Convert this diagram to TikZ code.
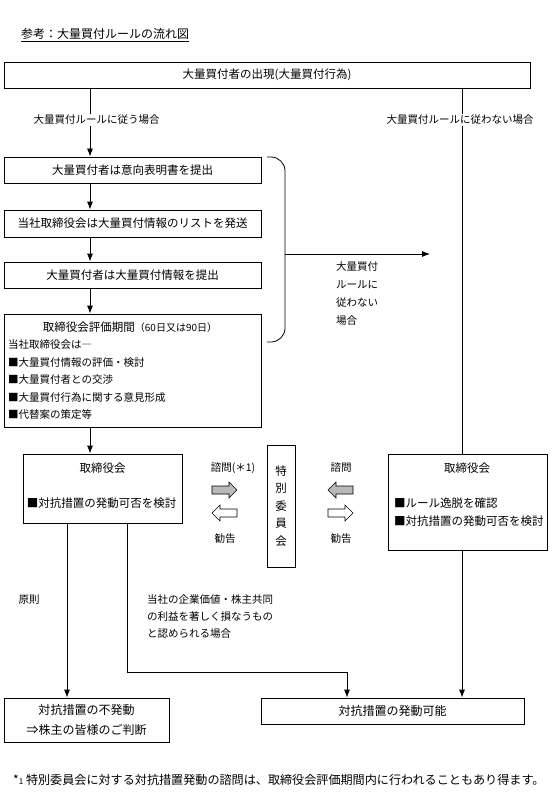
\documentclass[tikz,border=0pt]{standalone}
\usepackage{fontspec}
\setmainfont{Noto Sans CJK JP}
\usetikzlibrary{arrows.meta,calc}
\begin{document}
\begin{tikzpicture}[x=1pt,y=-1pt,
  ln/.style={line width=0.8pt},
  arr/.style={ln,-{Latex[length=8pt,width=6pt]}},
  box/.style={draw,ln,inner sep=0pt,align=center,font=\fontsize{11.5}{14}\selectfont},
  txt/.style={inner sep=0pt,font=\fontsize{11.5}{14}\selectfont},
  lst/.style={inner sep=0pt,anchor=west,font=\fontsize{10.5}{13}\selectfont},
  lbl/.style={inner sep=1.5pt,font=\fontsize{10.5}{13}\selectfont},
  blk/.style={line width=0.6pt},
]
\useasboundingbox (0,0) rectangle (555,805);

% title
\node[txt,font=\fontsize{12}{14}\selectfont] (title) at (105,35) {\underline{参考：大量買付ルールの流れ図}};

% boxes
\node[box,minimum width=526pt,minimum height=26pt] (top) at (267,75) {大量買付者の出現(大量買付行為)};
\node[box,minimum width=257pt,minimum height=26pt] (b1) at (132.5,170) {大量買付者は意向表明書を提出};
\node[box,minimum width=257pt,minimum height=27pt] (b2) at (132.5,223.5) {当社取締役会は大量買付情報のリストを発送};
\node[box,minimum width=257pt,minimum height=26pt] (b3) at (132.5,275) {大量買付者は大量買付情報を提出};
\node[box,minimum width=257pt,minimum height=113pt] (b4) at (132.5,370.5) {};
\node[txt] (b4t) at (130,327) {取締役会評価期間{\fontsize{10}{11}\selectfont（60日又は90日）}};
\node[lst] (b4a) at (8,345) {当社取締役会は―};
\node[lst] (b4b) at (8,363) {■大量買付情報の評価・検討};
\node[lst] (b4c) at (8,380) {■大量買付者との交渉};
\node[lst] (b4d) at (8,398) {■大量買付行為に関する意見形成};
\node[lst] (b4e) at (8,415) {■代替案の策定等};

\node[box,minimum width=159pt,minimum height=69pt] (b5) at (102.5,488.5) {};
\node[txt] (b5t) at (102.5,468) {取締役会};
\node[txt] (b5a) at (101.5,503) {■対抗措置の発動可否を検討};

\node[box,minimum width=28pt,minimum height=122pt,font=\fontsize{11.5}{17.5}\selectfont] (sp) at (281,506) {特\\別\\委\\員\\会};

\node[box,minimum width=159pt,minimum height=96pt] (rb) at (467.5,502) {};
\node[txt] (rbt) at (467,468) {取締役会};
\node[lst,font=\fontsize{11.5}{14}\selectfont] (rba) at (394,503) {■ルール逸脱を確認};
\node[lst,font=\fontsize{11.5}{14}\selectfont] (rbb) at (394,521) {■対抗措置の発動可否を検討};

\node[box,minimum width=165pt,minimum height=44pt,font=\fontsize{12}{20}\selectfont] (nb) at (86.5,720) {対抗措置の不発動\\⇒株主の皆様のご判断};
\node[box,minimum width=263pt,minimum height=26pt,font=\fontsize{12}{14}\selectfont] (pb) at (392.5,711) {対抗措置の発動可能};

% columns
\coordinate (cL) at (90,0);
\coordinate (cR) at (462,0);
\coordinate (c67) at (67,0);
\coordinate (c127) at (127,0);
\coordinate (turn) at (347,672);

% connectors
\draw[arr] (top.south -| cL) -- (b1.north -| cL);
\draw[arr] (b1.south -| cL) -- (b2.north -| cL);
\draw[arr] (b2.south -| cL) -- (b3.north -| cL);
\draw[arr] (b3.south -| cL) -- (b4.north -| cL);
\draw[arr] (b4.south -| cL) -- (b5.north -| cL);
\draw[ln] (top.south -| cR) -- (rb.north -| cR);
\draw[arr] (rb.south -| cR) -- (pb.north -| cR);
\draw[arr] (b5.south -| c67) -- (nb.north -| c67);
\draw[arr] (b5.south -| c127) |- (turn) -- (pb.north -| turn);

% brace and arrow
\draw[ln,rounded corners=14pt] (267,157) -- (285,157) -- (285,342) -- (267,342);
\coordinate (brace) at (285,254);
\coordinate (bend) at (430,254);
\draw[arr] (brace) -- (bend);

% labels
\node[lbl,fill=white] (l1) at (96.5,120) {大量買付ルールに従う場合};
\node[lbl,fill=white] (l2) at (460,120) {大量買付ルールに従わない場合};
\node[inner sep=0pt,anchor=north west,align=left,font=\fontsize{10.5}{18}\selectfont] (l3) at (336,261) {大量買付\\ルールに\\従わない\\場合};
\node[lbl] (l4) at (29,600) {原則};
\node[inner sep=0pt,anchor=west,align=left,font=\fontsize{10.5}{17}\selectfont] (l5) at (147,617) {当社の企業価値・株主共同\\の利益を著しく損なうもの\\と認められる場合};

\node[lbl] (q1) at (233,468) {諮問(＊1)};
\node[lbl] (k1) at (225,539) {勧告};
\node[lbl] (q2) at (341,468) {諮問};
\node[lbl] (k2) at (341,539) {勧告};

% block arrows
\draw[blk,fill=gray!55] (212,486) -- (229,486) -- (229,482) -- (237,490) -- (229,498) -- (229,494) -- (212,494) -- cycle;
\draw[blk,fill=white] (237,509) -- (220,509) -- (220,505) -- (212,513) -- (220,521) -- (220,517) -- (237,517) -- cycle;
\draw[blk,fill=gray!55] (353,486) -- (336,486) -- (336,482) -- (328,490) -- (336,498) -- (336,494) -- (353,494) -- cycle;
\draw[blk,fill=white] (328,509) -- (345,509) -- (345,505) -- (353,513) -- (345,521) -- (345,517) -- (328,517) -- cycle;

% footnote
\node[inner sep=0pt,anchor=west,font=\fontsize{12.1}{14}\selectfont] (fn) at (13,780) {*{\fontsize{8}{9}\selectfont 1} 特別委員会に対する対抗措置発動の諮問は、取締役会評価期間内に行われることもあり得ます。};
\end{tikzpicture}
\end{document}
